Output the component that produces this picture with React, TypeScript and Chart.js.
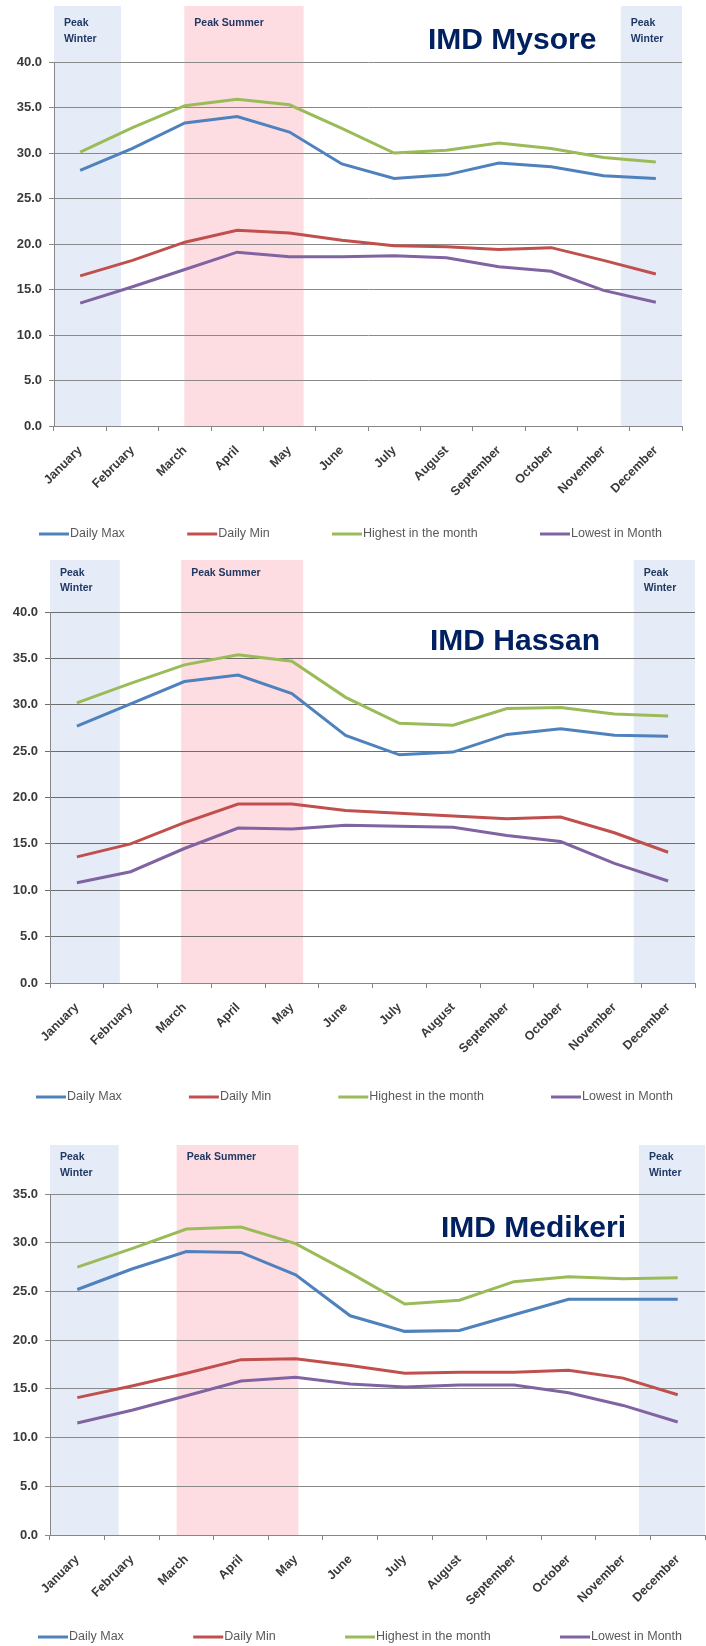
import React, { useEffect, useRef } from "react";
import { Chart, registerables } from "chart.js";

Chart.register(...registerables);

// ---------- data ----------
const months = [
  "January", "February", "March", "April", "May", "June",
  "July", "August", "September", "October", "November", "December",
];
const seriesNames = ["Daily Max", "Daily Min", "Highest in the month", "Lowest in Month"];
const seriesColors = ["#4F81BD", "#C0504D", "#9BBB59", "#8064A2"];

const mysoreDailyMax = [28.1, 30.5, 33.3, 34.0, 32.3, 28.8, 27.2, 27.6, 28.9, 28.5, 27.5, 27.2];
const mysoreDailyMin = [16.5, 18.2, 20.2, 21.5, 21.2, 20.4, 19.8, 19.7, 19.4, 19.6, 18.2, 16.7];
const mysoreHighest = [30.1, 32.8, 35.2, 35.9, 35.3, 32.7, 30.0, 30.3, 31.1, 30.5, 29.5, 29.0];
const mysoreLowest = [13.5, 15.3, 17.2, 19.1, 18.6, 18.6, 18.7, 18.5, 17.5, 17.0, 14.9, 13.6];

const hassanDailyMax = [27.7, 30.1, 32.5, 33.2, 31.2, 26.7, 24.6, 24.9, 26.8, 27.4, 26.7, 26.6];
const hassanDailyMin = [13.6, 15.0, 17.3, 19.3, 19.3, 18.6, 18.3, 18.0, 17.7, 17.9, 16.2, 14.1];
const hassanHighest = [30.2, 32.3, 34.3, 35.4, 34.7, 30.8, 28.0, 27.8, 29.6, 29.7, 29.0, 28.8];
const hassanLowest = [10.8, 12.0, 14.5, 16.7, 16.6, 17.0, 16.9, 16.8, 15.9, 15.25, 12.9, 11.0];

const medikeriDailyMax = [25.2, 27.3, 29.1, 29.0, 26.7, 22.5, 20.9, 21.0, 22.6, 24.2, 24.2, 24.2];
const medikeriDailyMin = [14.1, 15.3, 16.6, 18.0, 18.1, 17.4, 16.6, 16.7, 16.7, 16.9, 16.1, 14.4];
const medikeriHighest = [27.5, 29.4, 31.4, 31.6, 29.9, 26.9, 23.7, 24.1, 26.0, 26.5, 26.3, 26.4];
const medikeriLowest = [11.5, 12.8, 14.3, 15.8, 16.2, 15.5, 15.2, 15.4, 15.4, 14.6, 13.3, 11.6];

// y-axis ranges (tick step 5)
const mysoreYMax = 40;
const hassanYMax = 40;
const medikeriYMax = 35;
const yStep = 5;

// seasonal shading, in month units along the category axis
const winterLabel = ["Peak", "Winter"];
const summerLabel = ["Peak Summer"];
const mysorePeriods = [
  { kind: "winter", from: 0, to: 1.28 },
  { kind: "summer", from: 2.49, to: 4.77 },
  { kind: "winter", from: 10.83, to: 12 },
];
const hassanPeriods = [
  { kind: "winter", from: 0, to: 1.3 },
  { kind: "summer", from: 2.44, to: 4.71 },
  { kind: "winter", from: 10.86, to: 12 },
];
const medikeriPeriods = [
  { kind: "winter", from: 0, to: 1.26 },
  { kind: "summer", from: 2.32, to: 4.55 },
  { kind: "winter", from: 10.79, to: 12 },
];

// ---------- layout / style ----------
const W = 706;
const FONT = '"Liberation Sans", Arial, sans-serif';

type Cfg = {
  title: string;
  series: number[][];
  yMax: number;
  periods: { kind: string; from: number; to: number }[];
  height: number;
  plotTop: number;
  plotBottom: number;
  plotLeft: number;
  plotRight: number;
  bandTop: number;
  bandText1: number;
  bandText2: number;
  titleX: number;
  titleY: number;
  legendY: number;
  legendLeft: number;
  legendRight: number;
  gridColor: string;
};

const charts: Cfg[] = [
  {
    title: "IMD Mysore",
    series: [mysoreDailyMax, mysoreDailyMin, mysoreHighest, mysoreLowest],
    yMax: mysoreYMax,
    periods: mysorePeriods,
    height: 553,
    plotTop: 62,
    plotBottom: 426,
    plotLeft: 54,
    plotRight: 682,
    bandTop: 6,
    bandText1: 17,
    bandText2: 33,
    titleX: 428,
    titleY: 49,
    legendY: 534,
    legendLeft: 39,
    legendRight: 662,
    gridColor: "#8a8a8a",
  },
  {
    title: "IMD Hassan",
    series: [hassanDailyMax, hassanDailyMin, hassanHighest, hassanLowest],
    yMax: hassanYMax,
    periods: hassanPeriods,
    height: 559,
    plotTop: 59,
    plotBottom: 430,
    plotLeft: 50,
    plotRight: 695,
    bandTop: 7,
    bandText1: 13,
    bandText2: 28,
    titleX: 430,
    titleY: 97,
    legendY: 544,
    legendLeft: 36,
    legendRight: 673,
    gridColor: "#6e6e6e",
  },
  {
    title: "IMD Medikeri",
    series: [medikeriDailyMax, medikeriDailyMin, medikeriHighest, medikeriLowest],
    yMax: medikeriYMax,
    periods: medikeriPeriods,
    height: 534,
    plotTop: 82,
    plotBottom: 423,
    plotLeft: 50,
    plotRight: 705,
    bandTop: 33,
    bandText1: 12,
    bandText2: 28,
    titleX: 441,
    titleY: 125,
    legendY: 525,
    legendLeft: 38,
    legendRight: 682,
    gridColor: "#8a8a8a",
  },
];

function makeDecor(cfg: Cfg) {
  return {
    id: "decor",
    beforeDraw(chart: any) {
      const { ctx, chartArea, scales } = chart;
      const x = scales.x;
      ctx.save();
      for (const p of cfg.periods) {
        const x0 = x.getPixelForValue(p.from - 0.5);
        const x1 = x.getPixelForValue(p.to - 0.5);
        ctx.fillStyle = p.kind === "winter" ? "#E6ECF7" : "#FDDDE1";
        ctx.fillRect(x0, cfg.bandTop, x1 - x0, chartArea.bottom - cfg.bandTop);
      }
      ctx.restore();
    },
    afterDraw(chart: any) {
      const { ctx, scales } = chart;
      const x = scales.x;
      ctx.save();
      // band captions
      ctx.font = `bold 10.5px ${FONT}`;
      ctx.fillStyle = "#1F3864";
      ctx.textAlign = "left";
      ctx.textBaseline = "middle";
      for (const p of cfg.periods) {
        const x0 = x.getPixelForValue(p.from - 0.5) + 10;
        const lines = p.kind === "winter" ? winterLabel : summerLabel;
        lines.forEach((t, i) => {
          ctx.fillText(t, x0, cfg.bandTop + (i === 0 ? cfg.bandText1 : cfg.bandText2));
        });
      }
      // title
      ctx.font = `bold 30px ${FONT}`;
      ctx.fillStyle = "#002060";
      ctx.textBaseline = "alphabetic";
      ctx.fillText(cfg.title, cfg.titleX, cfg.titleY);
      // legend
      ctx.font = `12.5px ${FONT}`;
      const ds = chart.data.datasets;
      const lineLen = 30;
      const widths = ds.map((d: any) => lineLen + 1 + ctx.measureText(d.label).width);
      const total = widths.reduce((a: number, b: number) => a + b, 0);
      const gap = (cfg.legendRight - cfg.legendLeft - total) / (ds.length - 1);
      let lx = cfg.legendLeft;
      ds.forEach((d: any, i: number) => {
        ctx.strokeStyle = d.borderColor;
        ctx.lineWidth = 3;
        ctx.beginPath();
        ctx.moveTo(lx, cfg.legendY);
        ctx.lineTo(lx + lineLen, cfg.legendY);
        ctx.stroke();
        ctx.fillStyle = "#595959";
        ctx.textBaseline = "middle";
        ctx.fillText(d.label, lx + lineLen + 1, cfg.legendY);
        lx += widths[i] + gap;
      });
      ctx.restore();
    },
  };
}

function TempChart({ cfg }: { cfg: Cfg }) {
  const ref = useRef<HTMLCanvasElement>(null);
  useEffect(() => {
    const canvas = ref.current;
    if (!canvas) return;
    const H = cfg.height;
    const chart = new Chart(canvas, {
      type: "line",
      data: {
        labels: months,
        datasets: cfg.series.map((vals, i) => ({
          label: seriesNames[i],
          data: vals,
          borderColor: seriesColors[i],
          backgroundColor: seriesColors[i],
          borderWidth: 3,
          pointRadius: 0,
          tension: 0,
          fill: false,
        })),
      },
      options: {
        responsive: false,
        animation: false,
        events: [],
        layout: {
          padding: { top: cfg.plotTop, right: W - cfg.plotRight, left: 0, bottom: 0 },
        },
        plugins: {
          legend: { display: false },
          title: { display: false },
          tooltip: { enabled: false },
        },
        scales: {
          x: {
            type: "category",
            offset: true,
            afterFit: (s: any) => {
              s.height = H - cfg.plotBottom;
            },
            grid: {
              display: true,
              drawOnChartArea: false,
              drawTicks: true,
              tickLength: 5,
              offset: true,
              color: "#868686",
            },
            border: { display: true, color: "#868686", width: 1 },
            ticks: {
              autoSkip: false,
              maxRotation: 45,
              minRotation: 45,
              padding: 12,
              color: "#3a3a3a",
              font: { family: FONT, size: 12.5, weight: "bold" },
            },
          },
          y: {
            min: 0,
            max: cfg.yMax,
            afterFit: (s: any) => {
              s.width = cfg.plotLeft;
            },
            grid: {
              color: cfg.gridColor,
              lineWidth: 1,
              drawTicks: true,
              tickLength: 5,
            },
            border: { display: true, color: "#868686", width: 1 },
            ticks: {
              stepSize: yStep,
              padding: 7,
              color: "#3a3a3a",
              font: { family: FONT, size: 13, weight: "bold" },
              callback: (v: any) => Number(v).toFixed(1),
            },
          },
        },
      },
      plugins: [makeDecor(cfg)],
    } as any);
    return () => chart.destroy();
  }, [cfg]);
  return (
    <div style={{ width: W, height: cfg.height }}>
      <canvas ref={ref} width={W} height={cfg.height} style={{ display: "block" }} />
    </div>
  );
}

export default function App() {
  return (
    <div style={{ position: "absolute", left: 0, top: 0, width: W, background: "#ffffff" }}>
      {charts.map((c) => (
        <TempChart key={c.title} cfg={c} />
      ))}
    </div>
  );
}
